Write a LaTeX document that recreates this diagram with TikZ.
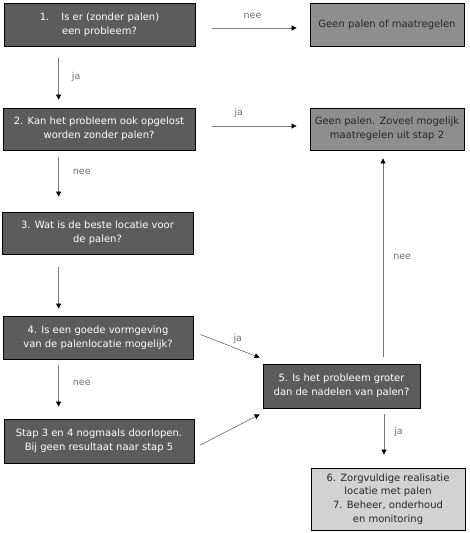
\documentclass[tikz,border=0pt]{standalone}
\usepackage{fontspec}
\setmainfont{DejaVu Sans}
\usetikzlibrary{arrows.meta}
\definecolor{darkbox}{HTML}{5C5C5C}
\definecolor{midbox}{HTML}{8E8E8E}
\definecolor{lightbox}{HTML}{D2D2D2}
\definecolor{linegray}{HTML}{7A7A7A}
\definecolor{labelgray}{HTML}{707070}
\tikzset{
  box/.style={draw=black, line width=0.8pt, align=center, inner sep=0pt,
    font=\fontsize{10}{13.8}\selectfont},
  darkb/.style={box, fill=darkbox, text=white},
  midb/.style={box, fill=midbox, text=black!85},
  lightb/.style={box, fill=lightbox, text=black!85},
  conn/.style={draw=linegray, line width=0.7pt, -{Triangle[length=5pt,width=5pt,color=black]}},
  lbl/.style={text=labelgray, font=\fontsize{9.5}{10}\selectfont, inner sep=0pt},
}
\begin{document}
\begin{tikzpicture}[x=1pt,y=-1pt]
\useasboundingbox (0,0) rectangle (469,533);
\node[darkb, minimum width=191pt, minimum height=43pt] (b1) at (99.5,24.5) {1.\hspace{1.2em}Is er (zonder palen)\\een probleem?};
\node[midb, minimum width=154pt, minimum height=43pt] (n1) at (387,24.5) {Geen palen of maatregelen};
\node[darkb, minimum width=192pt, minimum height=42pt] (b2) at (99,129) {2. Kan het probleem ook opgelost\\worden zonder palen?};
\node[midb, minimum width=154pt, minimum height=42pt] (n2) at (387,129) {Geen palen. Zoveel mogelijk\\maatregelen uit stap 2};
\node[darkb, minimum width=191pt, minimum height=42pt] (b3) at (97.5,233) {3. Wat is de beste locatie voor\\de palen?};
\node[darkb, minimum width=190pt, minimum height=43pt] (b4) at (98,337.5) {4. Is een goede vormgeving\\van de palenlocatie mogelijk?};
\node[darkb, minimum width=190pt, minimum height=44pt] (st) at (99,441) {Stap 3 en 4 nogmaals doorlopen.\\Bij geen resultaat naar stap 5};
\node[darkb, minimum width=157pt, minimum height=44pt] (b5) at (341.5,386) {5. Is het probleem groter\\dan de nadelen van palen?};
\node[lightb, minimum width=154pt, minimum height=62pt] (b6) at (388,499) {6. Zorgvuldige realisatie\\locatie met palen\\7. Beheer, onderhoud\\en monitoring};

% horizontal
\draw[conn, shorten <=17pt, shorten >=13pt] ([yshift=-3.5pt]b1.east) -- ([yshift=-3.5pt]n1.west) node[lbl, midway, above=9pt] {nee};
\draw[conn, shorten <=17pt, shorten >=13pt] ([yshift=3pt]b2.east) -- ([yshift=3pt]n2.west) node[lbl, pos=0.38, above=8pt] {ja};
% vertical left
\draw[conn, shorten <=12pt, shorten >=8pt] ([xshift=55pt]b1.south west) -- ([xshift=56pt]b2.north west) node[lbl, midway, right=13pt] {ja};
\draw[conn, shorten <=7pt, shorten >=15pt] ([xshift=56pt]b2.south west) -- ([xshift=57pt]b3.north west) node[lbl, pos=0.35, right=14pt] {nee};
\draw[conn, shorten <=13pt, shorten >=7pt] ([xshift=57pt]b3.south west) -- ([xshift=56pt]b4.north west);
\draw[conn, shorten <=6pt, shorten >=12pt] ([xshift=56pt]b4.south west) -- ([xshift=55pt]st.north west) node[lbl, pos=0.4, right=14pt] {nee};
% diagonal
\coordinate (d1s) at ([xshift=7pt,yshift=3pt]b4.east);
\coordinate (d1e) at ([xshift=-3pt,yshift=6pt]b5.north west);
\draw[conn] (d1s) -- (d1e) node[lbl, pos=0.58, above=4pt, xshift=3pt] {ja};
\coordinate (d2s) at ([xshift=6pt,yshift=-4pt]st.east);
\coordinate (d2e) at ([xshift=-3pt,yshift=-6pt]b5.south west);
\draw[conn] (d2s) -- (d2e);
% right column
\draw[conn, shorten <=7pt, shorten >=8pt] ([xshift=41.5pt]b5.north) -- ([xshift=-4pt]n2.south) node[lbl, midway, right=10pt] {nee};
\draw[conn, shorten <=6pt, shorten >=13pt] ([xshift=42.5pt]b5.south) -- ([xshift=-4pt]b6.north) node[lbl, pos=0.4, right=10pt] {ja};
\end{tikzpicture}
\end{document}
